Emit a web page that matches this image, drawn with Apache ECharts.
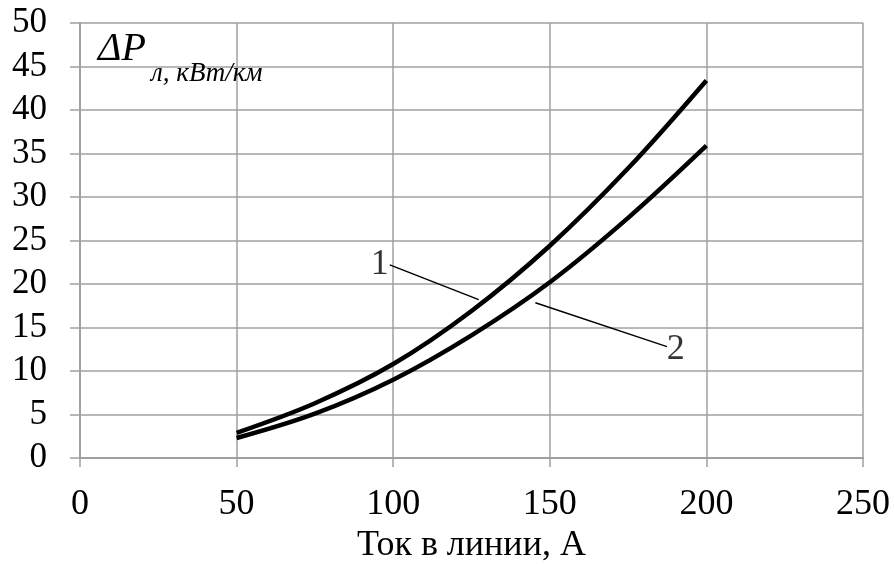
<!DOCTYPE html>
<html>
<head>
<meta charset="utf-8">
<script src="https://cdn.jsdelivr.net/npm/echarts@6/dist/echarts.min.js"></script>
<style>
html,body{margin:0;padding:0;background:#fff;}
#chart{width:894px;height:564px;}
</style>
</head>
<body>
<div id="chart"></div>
<script>
// Data
var currentA = [50, 75, 100, 125, 150, 175, 200];
var curve1 = [2.9, 6.3, 10.8, 16.9, 24.4, 33.3, 43.4];
var curve2 = [2.3, 5.1, 9.0, 14.1, 20.2, 27.6, 35.9];
var xTicks = [0, 50, 100, 150, 200, 250];
var yTicks = [0, 5, 10, 15, 20, 25, 30, 35, 40, 45, 50];
var curveNames = ['1', '2'];
var xTitle = 'Ток в линии, А';

var FONT = "'Liberation Serif', 'Times New Roman', serif";

function pairs(xs, ys) {
  return xs.map(function (x, i) { return [x, ys[i]]; });
}

// annotation placement (data coordinates)
var labelPos = [[95.7, 22.2], [190.2, 12.5]];
var leaders = [
  [[98.9, 22.2], [127.3, 18.2]],
  [[145.4, 17.85], [187.4, 12.8]]
];

var chart = echarts.init(document.getElementById('chart'), null, {renderer: 'canvas'});
var gridColor = '#a0a0a0';
chart.setOption({
  animation: false,
  backgroundColor: '#fff',
  grid: {left: 80, right: 31, top: 23, bottom: 106, containLabel: false, outerBoundsMode: 'none'},
  xAxis: {
    type: 'value', min: xTicks[0], max: xTicks[xTicks.length - 1], interval: 50,
    name: xTitle, nameLocation: 'middle', nameGap: 70,
    nameTextStyle: {fontFamily: FONT, fontSize: 36, color: '#000'},
    axisLine: {show: true, onZero: false, lineStyle: {color: gridColor, width: 2}},
    axisTick: {show: true, length: 9, lineStyle: {color: gridColor, width: 1.5}},
    axisLabel: {fontFamily: FONT, fontSize: 36, color: '#000', margin: 29},
    splitLine: {show: true, lineStyle: {color: gridColor, width: 1.5}}
  },
  yAxis: {
    type: 'value', min: yTicks[0], max: yTicks[yTicks.length - 1], interval: 5,
    axisLine: {show: true, lineStyle: {color: gridColor, width: 2}},
    axisTick: {show: true, length: 10, lineStyle: {color: gridColor, width: 1.5}},
    axisLabel: {fontFamily: FONT, fontSize: 35, color: '#000', margin: 33},
    splitLine: {show: true, lineStyle: {color: gridColor, width: 1.5}}
  },
  series: [
    {
      name: curveNames[0], type: 'line', data: pairs(currentA, curve1),
      smooth: 0.35, symbol: 'none', lineStyle: {color: '#000', width: 4.5},
      markLine: {
        silent: true, symbol: 'none', label: {show: false},
        lineStyle: {color: '#000', width: 1.5, type: 'solid'},
        data: leaders.map(function (l) { return [{coord: l[0]}, {coord: l[1]}]; })
      },
      z: 3
    },
    {
      name: curveNames[1], type: 'line', data: pairs(currentA, curve2),
      smooth: 0.35, symbol: 'none', lineStyle: {color: '#000', width: 4.5}, z: 3
    },
    {
      type: 'scatter', symbolSize: 0, silent: true,
      data: labelPos.map(function (p, i) { return {value: p, name: curveNames[i]}; }),
      label: {show: true, position: 'inside', formatter: function (p) { return p.name; },
        fontFamily: FONT, fontSize: 36, color: '#000'},
      z: 4
    }
  ],
  graphic: [
    {type: 'text', left: 98, top: 29, z: 10,
      style: {text: 'ΔP', font: 'italic 40px ' + FONT, fill: '#000'}},
    {type: 'text', left: 151, top: 60, z: 10,
      style: {text: 'л, кВт/км', font: 'italic 27px ' + FONT, fill: '#000'}}
  ]
});
</script>
</body>
</html>
